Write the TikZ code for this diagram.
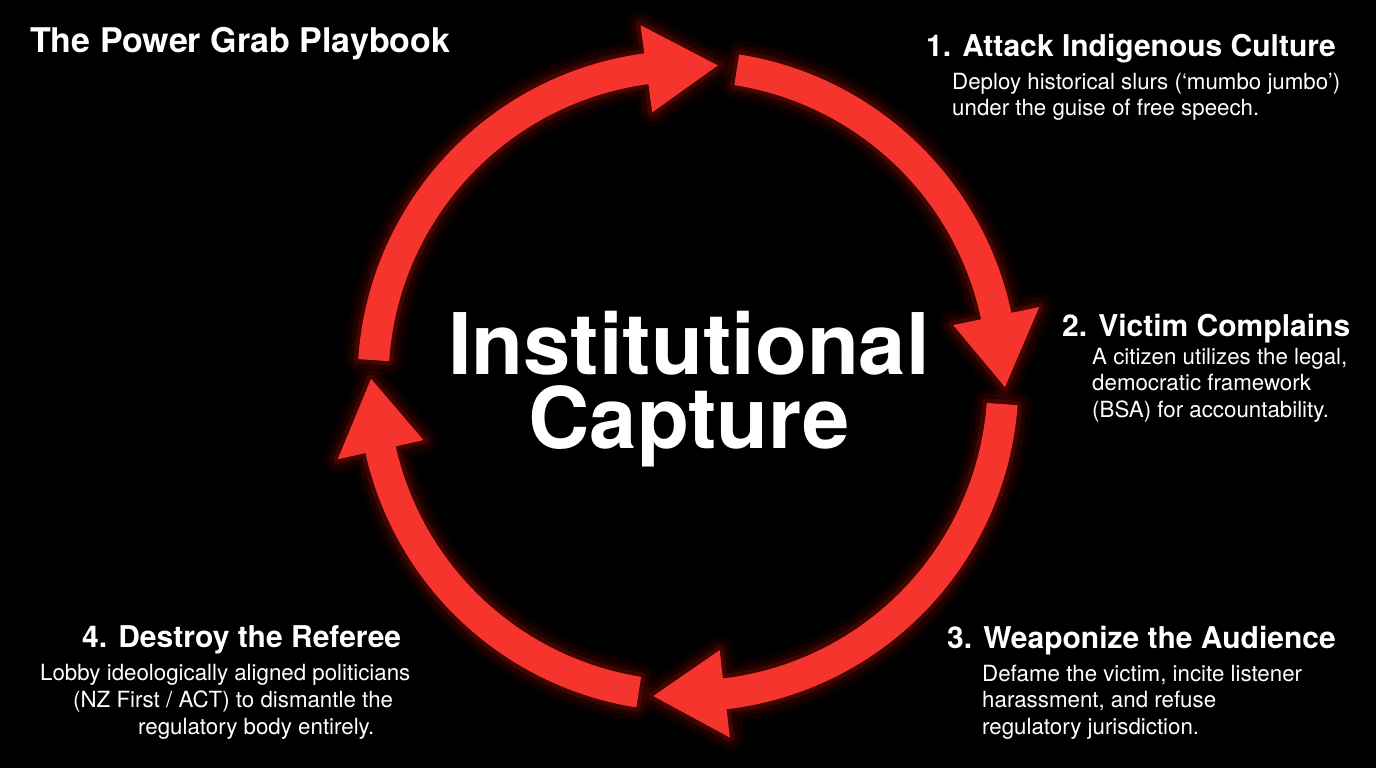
\documentclass[tikz,border=0pt]{standalone}
\usepackage{fontspec}
\setmainfont{TeX Gyre Heros}
\usetikzlibrary{calc}
\definecolor{arrowred}{RGB}{245,52,46}
\definecolor{glowred}{RGB}{255,20,10}
\newcommand\cyclearrowpath[3]{% start angle, tip angle, head-base angle
  (#1:330.5) arc[start angle=#1, end angle=#3, radius=330.5]
  -- (#3:359) -- (#2:317) -- (#3:271) -- (#3:299.5)
  arc[start angle=#3, end angle=#1, radius=299.5] -- cycle}
\newcommand\cyclearrow[3]{%
  \draw[glowred, opacity=0.05, line width=28, line join=round] \cyclearrowpath{#1}{#2}{#3};
  \draw[glowred, opacity=0.08, line width=18, line join=round] \cyclearrowpath{#1}{#2}{#3};
  \draw[glowred, opacity=0.15, line width=9, line join=round] \cyclearrowpath{#1}{#2}{#3};
  \fill[arrowred] \cyclearrowpath{#1}{#2}{#3};}
\tikzset{
  titletext/.style={anchor=base west, text=white, inner sep=0pt, font=\bfseries\fontsize{34}{38}\selectfont},
  headtext/.style={anchor=base west, text=white, inner sep=0pt, font=\bfseries\fontsize{30}{34}\selectfont},
  bodytext/.style={anchor=base west, text=white, inner sep=0pt, font=\fontsize{22.3}{26}\selectfont},
  bigtext/.style={anchor=north, align=center, text=white, inner sep=0pt, font=\bfseries\fontsize{85}{74}\selectfont},
}
\begin{document}
\begin{tikzpicture}[x=1pt,y=1pt]
\useasboundingbox (0,0) rectangle (1376,-768);
\fill[black] (0,0) rectangle (1376,-768);

\begin{scope}[shift={(688,-381)}]
  \cyclearrow{176.2}{84.6}{97.6}
  \cyclearrow{81.1}{-1.1}{11.9}
  \cyclearrow{-4.2}{-96.3}{-83.3}
  \cyclearrow{-99}{-180.4}{-167.4}
\end{scope}

\node[titletext] (title) at (30,-53) {The Power Grab Playbook};

\node[bigtext] (center) at (689,-311) {Institutional\\Capture};

\node[headtext] (h1) at (926,-57) {1. Attack Indigenous Culture};
\node[bodytext] (b1a) at (952,-89) {Deploy historical slurs (‘mumbo jumbo’)};
\node[bodytext] (b1b) at (952,-115) {under the guise of free speech.};

\node[headtext] (h2) at (1062,-336) {2. Victim Complains};
\node[bodytext] (b2a) at (1092,-364) {A citizen utilizes the legal,};
\node[bodytext] (b2b) at (1092,-390) {democratic framework};
\node[bodytext] (b2c) at (1092,-417) {(BSA) for accountability.};

\node[headtext] (h3) at (947,-648) {3. Weaponize the Audience};
\node[bodytext] (b3a) at (982,-681) {Defame the victim, incite listener};
\node[bodytext] (b3b) at (982,-707) {harassment, and refuse};
\node[bodytext] (b3c) at (982,-734) {regulatory jurisdiction.};

\node[headtext] (h4) at (82,-647) {4. Destroy the Referee};
\node[bodytext] (b4a) at (40,-680) {Lobby ideologically aligned politicians};
\node[bodytext] (b4b) at (73,-707) {(NZ First / ACT) to dismantle the};
\node[bodytext] (b4c) at (138,-734) {regulatory body entirely.};
\end{tikzpicture}
\end{document}
